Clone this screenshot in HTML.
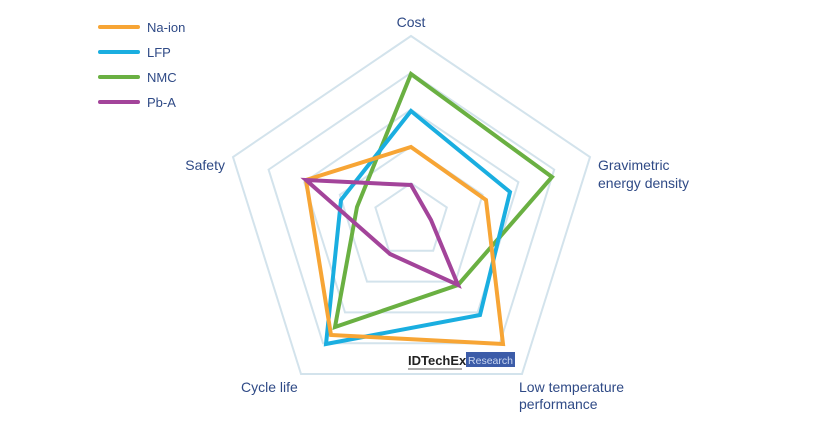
<!DOCTYPE html>
<html><head><meta charset="utf-8"><style>
html,body{margin:0;padding:0;background:#fff;}
svg{display:block;font-family:"Liberation Sans",sans-serif;}
.lbl{fill:#2f4a86;font-size:14px;}
.ring{fill:none;stroke:#d3e3ec;stroke-width:2;vector-effect:non-scaling-stroke;}
.d{fill:none;stroke-width:4;stroke-linejoin:miter;}
</style></head><body>
<svg width="832" height="439" viewBox="0 0 832 439">
<g id="r">
<polygon class="ring" points="411,36 590,157 522,374 301,374 233,157"/>
<polygon class="ring" transform="translate(411,220) scale(0.8) translate(-411,-220)" points="411,36 590,157 522,374 301,374 233,157"/>
<polygon class="ring" transform="translate(411,220) scale(0.6) translate(-411,-220)" points="411,36 590,157 522,374 301,374 233,157"/>
<polygon class="ring" transform="translate(411,220) scale(0.4) translate(-411,-220)" points="411,36 590,157 522,374 301,374 233,157"/>
<polygon class="ring" transform="translate(411,220) scale(0.2) translate(-411,-220)" points="411,36 590,157 522,374 301,374 233,157"/>
</g>
<polygon class="d" stroke="#6ab042" points="411,74 552,177 458,285 335,327 357,207"/>
<polygon class="d" stroke="#1aaee0" points="411,111 510,192 480,315 326,344 341,200"/>
<polygon class="d" stroke="#f7a535" points="411,147 486,200 503,344 331,335 306,180"/>
<polygon class="d" stroke="#a3449a" points="411,185 431,220 458,285 390,254 306,180"/>
<text x="408" y="365" font-size="13" font-weight="bold" fill="#222">IDTechEx</text>
<line x1="408" y1="369" x2="462" y2="369" stroke="#222" stroke-width="0.8"/>
<rect x="466" y="352" width="49" height="15" fill="#3c5ca8"/>
<text x="490.5" y="364" font-size="10.5" fill="#c9d6f0" text-anchor="middle">Research</text>
<text class="lbl" x="411" y="27" text-anchor="middle">Cost</text>
<text class="lbl" x="598" y="170">Gravimetric</text>
<text class="lbl" x="598" y="188">energy density</text>
<text class="lbl" x="225" y="170" text-anchor="end">Safety</text>
<text class="lbl" x="241" y="392">Cycle life</text>
<text class="lbl" x="519" y="392">Low temperature</text>
<text class="lbl" x="519" y="409">performance</text>
<g stroke-width="4" stroke-linecap="round">
<line x1="100" y1="27" x2="138" y2="27" stroke="#f7a535"/>
<line x1="100" y1="52" x2="138" y2="52" stroke="#1aaee0"/>
<line x1="100" y1="77" x2="138" y2="77" stroke="#6ab042"/>
<line x1="100" y1="102" x2="138" y2="102" stroke="#a3449a"/>
</g>
<g font-size="13" fill="#2f4a86">
<text x="147" y="32">Na-ion</text>
<text x="147" y="57">LFP</text>
<text x="147" y="82">NMC</text>
<text x="147" y="107">Pb-A</text>
</g>
</svg>
</body></html>
